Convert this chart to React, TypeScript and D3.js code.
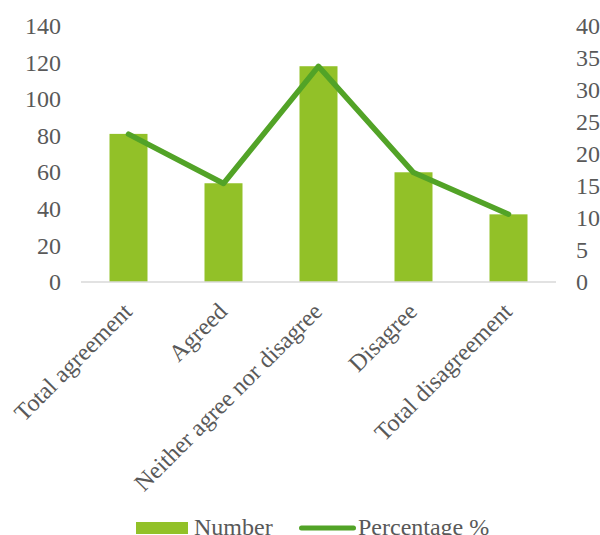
import React from "react";
import * as d3 from "d3";

const categories = [
  "Total agreement",
  "Agreed",
  "Neither agree nor disagree",
  "Disagree",
  "Total disagreement",
];
const numberValues = [81, 54, 118, 60, 37];
const percentValues = [23.1, 15.4, 33.7, 17.1, 10.6];
const leftTicks = [0, 20, 40, 60, 80, 100, 120, 140];
const rightTicks = [0, 5, 10, 15, 20, 25, 30, 35, 40];

const W = 600;
const H = 535;
const plotLeft = 81;
const plotRight = 556;
const plotBottom = 282;
const plotTop = 26;

const BAR_COLOR = "#92c128";
const LINE_COLOR = "#52a327";
const TEXT_COLOR = "#595959";
const FONT = "'Liberation Serif', 'Times New Roman', serif";
const FONT_SIZE = 24;

export default function App() {
  const x = d3.scaleBand<string>().domain(categories).range([plotLeft, plotRight]).padding(0);
  const yLeft = d3.scaleLinear().domain([0, 140]).range([plotBottom, plotTop]);
  const yRight = d3.scaleLinear().domain([0, 40]).range([plotBottom, plotTop]);
  const barW = x.bandwidth() * 0.4;
  const cx = (c: string) => (x(c) as number) + x.bandwidth() / 2;

  const linePath = d3
    .line<number>()
    .x((_, i) => cx(categories[i]))
    .y((d) => yRight(d))(percentValues) as string;

  return (
    <svg
      width={W}
      height={H}
      style={{ position: "absolute", left: 0, top: 0, background: "#fff" }}
      fontFamily={FONT}
      fontSize={FONT_SIZE}
      fill={TEXT_COLOR}
    >
      {/* left axis labels */}
      {leftTicks.map((t) => (
        <text key={"l" + t} x={61} y={yLeft(t)} dy="0.34em" textAnchor="end">
          {t}
        </text>
      ))}
      {/* right axis labels */}
      {rightTicks.map((t) => (
        <text key={"r" + t} x={576} y={yRight(t)} dy="0.34em" textAnchor="start">
          {t}
        </text>
      ))}

      {/* bars */}
      {numberValues.map((v, i) => (
        <rect
          key={"b" + i}
          x={cx(categories[i]) - barW / 2}
          y={yLeft(v)}
          width={barW}
          height={plotBottom - yLeft(v)}
          fill={BAR_COLOR}
        />
      ))}

      {/* baseline */}
      <line x1={plotLeft} x2={plotRight} y1={plotBottom} y2={plotBottom} stroke="#d9d9d9" strokeWidth={1.5} />

      {/* percentage line */}
      <path
        d={linePath}
        fill="none"
        stroke={LINE_COLOR}
        strokeWidth={5.5}
        strokeLinecap="round"
        strokeLinejoin="round"
      />

      {/* category labels */}
      {categories.map((c) => (
        <text
          key={"c" + c}
          transform={`translate(${cx(c) + 5},${plotBottom + 31}) rotate(-45)`}
          textAnchor="end"
        >
          {c}
        </text>
      ))}

      {/* legend */}
      <rect x={136} y={522} width={52} height={12} fill={BAR_COLOR} />
      <text x={194} y={534.5}>Number</text>
      <line x1={301.5} x2={353.5} y1={528} y2={528} stroke={LINE_COLOR} strokeWidth={5} strokeLinecap="round" />
      <text x={358} y={534.5}>Percentage %</text>
    </svg>
  );
}
